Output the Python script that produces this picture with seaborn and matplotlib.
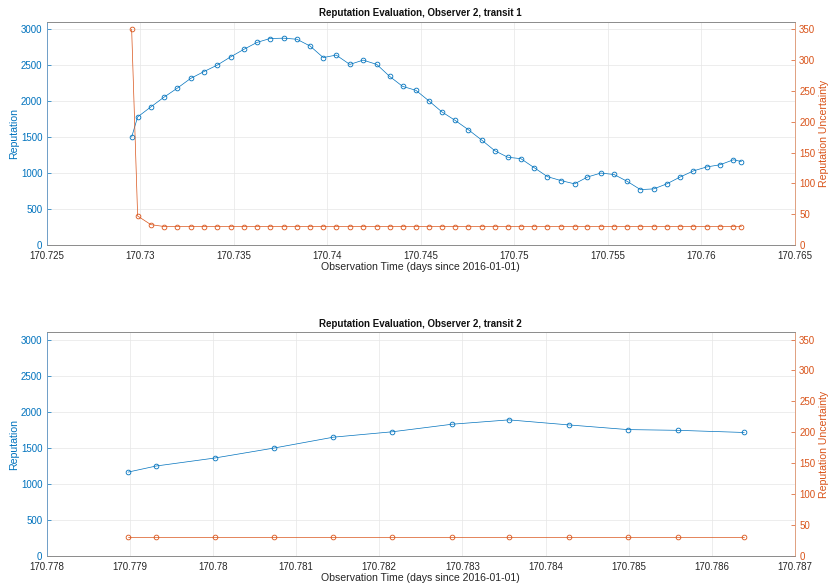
import numpy as np
import pandas as pd
import matplotlib
matplotlib.use("Agg")
import matplotlib.pyplot as plt
import seaborn as sns

# ---------------- data ----------------
t_transit1 = [170.72955, 170.72987, 170.73058, 170.73128, 170.73199, 170.73270, 170.73341,
              170.73412, 170.73484, 170.73555, 170.73624, 170.73694, 170.73767, 170.73838,
              170.73909, 170.73979, 170.74048, 170.74121, 170.74192, 170.74265, 170.74333,
              170.74403, 170.74474, 170.74545, 170.74613, 170.74682, 170.74753, 170.74825,
              170.74896, 170.74965, 170.75035, 170.75106, 170.75177, 170.75250, 170.75322,
              170.75391, 170.75462, 170.75533, 170.75603, 170.75674, 170.75745, 170.75815,
              170.75886, 170.75957, 170.76028, 170.76099, 170.76171, 170.76214]
rep_transit1 = [1500, 1780, 1920, 2055, 2180, 2315, 2410, 2500, 2615, 2720, 2815, 2870,
                2875, 2860, 2765, 2605, 2640, 2510, 2570, 2510, 2345, 2205, 2150, 2000,
                1850, 1735, 1605, 1460, 1310, 1220, 1200, 1075, 950, 895, 850, 945,
                1000, 980, 885, 770, 780, 850, 945, 1030, 1085, 1115, 1185, 1160]
unc_transit1 = [350, 47, 33, 30, 30, 30, 30, 30, 30, 30, 30, 30,
                30, 30, 30, 30, 30, 30, 30, 30, 30, 30, 30, 30,
                30, 30, 30, 30, 30, 30, 30, 30, 30, 30, 30, 30,
                30, 30, 30, 30, 30, 30, 30, 30, 30, 30, 30, 30]

t_transit2 = [170.77898, 170.77932, 170.78002, 170.78074, 170.78145, 170.78216,
              170.78288, 170.78356, 170.78428, 170.78499, 170.78559, 170.78639]
rep_transit2 = [1160, 1245, 1355, 1495, 1645, 1720, 1825, 1885, 1815, 1750, 1740, 1710]
unc_transit2 = [30, 30, 30, 30, 30, 30, 30, 30, 30, 30, 30, 30]

xticks_transit1 = [170.725, 170.73, 170.735, 170.74, 170.745, 170.75, 170.755, 170.76, 170.765]
xticklabels_transit1 = ["170.725", "170.73", "170.735", "170.74", "170.745", "170.75",
                        "170.755", "170.76", "170.765"]
xticks_transit2 = [170.778, 170.779, 170.78, 170.781, 170.782, 170.783, 170.784,
                   170.785, 170.786, 170.787]
xticklabels_transit2 = ["170.778", "170.779", "170.78", "170.781", "170.782", "170.783",
                        "170.784", "170.785", "170.786", "170.787"]
left_ticks = [0, 500, 1000, 1500, 2000, 2500, 3000]
right_ticks = [0, 50, 100, 150, 200, 250, 300, 350]

titles = ["Reputation Evaluation, Observer 2, transit 1",
          "Reputation Evaluation, Observer 2, transit 2"]

# ---------------- style ----------------
sns.set_style("white")
plt.rcParams["font.family"] = ["Liberation Sans", "DejaVu Sans"]
FS = 7.0
BLUE = "#0072BD"
ORANGE = "#D95319"
DARK = "#262626"
SPINE = "#8c8c8c"

fig = plt.figure(figsize=(8.29, 5.86), dpi=100)
ax_top = fig.add_axes([0.0561, 0.5819, 0.9029, 0.3806])
ax_bot = fig.add_axes([0.0561, 0.0517, 0.9029, 0.3812])

panels = [
    (ax_top, t_transit1, rep_transit1, unc_transit1, xticks_transit1, xticklabels_transit1,
     (170.725, 170.765), titles[0]),
    (ax_bot, t_transit2, rep_transit2, unc_transit2, xticks_transit2, xticklabels_transit2,
     (170.778, 170.787), titles[1]),
]

for ax, t, rep, unc, xt, xtl, xlim, title in panels:
    df = pd.DataFrame({"t": t, "rep": rep, "unc": unc})
    ax2 = ax.twinx()

    sns.lineplot(data=df, x="t", y="rep", ax=ax, color=BLUE, linewidth=0.5,
                 marker="o", markersize=3.4, markerfacecolor="none",
                 markeredgecolor=BLUE, markeredgewidth=0.6, sort=False, estimator=None)
    sns.lineplot(data=df, x="t", y="unc", ax=ax2, color=ORANGE, linewidth=0.5,
                 marker="o", markersize=3.4, markerfacecolor="none",
                 markeredgecolor=ORANGE, markeredgewidth=0.6, sort=False, estimator=None)

    ax.set_xlim(*xlim)
    ax.set_ylim(0, 3100)
    ax2.set_ylim(0, 3100 * 350 / 3000)

    ax.set_xticks(xt)
    ax.set_xticklabels(xtl)
    ax.set_yticks(left_ticks)
    ax.set_yticklabels([str(v) for v in left_ticks])
    ax2.set_yticks(right_ticks)
    ax2.set_yticklabels([str(v) for v in right_ticks])

    ax.grid(True, color="#e6e6e6", linewidth=0.5)
    ax.set_axisbelow(True)

    ax.tick_params(axis="x", direction="in", length=3, width=0.5, colors=SPINE,
                   labelcolor=DARK, labelsize=FS, pad=4.5)
    ax.tick_params(axis="y", direction="in", length=3, width=0.5, colors=BLUE,
                   labelcolor=BLUE, labelsize=FS, pad=3, left=True, right=False)
    ax2.tick_params(axis="y", direction="in", length=3, width=0.5, colors=ORANGE,
                    labelcolor=ORANGE, labelsize=FS, pad=3, right=True, left=False)

    for a in (ax, ax2):
        for side in ("top", "bottom"):
            a.spines[side].set_color(SPINE)
            a.spines[side].set_linewidth(0.6)
        a.spines["left"].set_color("#6f9fc8")
        a.spines["left"].set_linewidth(0.6)
        a.spines["right"].set_color("#e0a080")
        a.spines["right"].set_linewidth(0.6)

    ax.set_xlabel("Observation Time (days since 2016-01-01)", fontsize=FS + 0.6,
                  color=DARK, labelpad=0.5)
    ax.set_ylabel("Reputation", fontsize=FS + 0.6, color=BLUE, labelpad=1.5)
    ax2.set_ylabel("Reputation Uncertainty", fontsize=FS + 0.6, color=ORANGE,
                   rotation=90, labelpad=3)
    ax.set_title(title, fontsize=FS, fontweight="bold", color="#111111", pad=4)

fig.savefig("out.png", dpi=100)
